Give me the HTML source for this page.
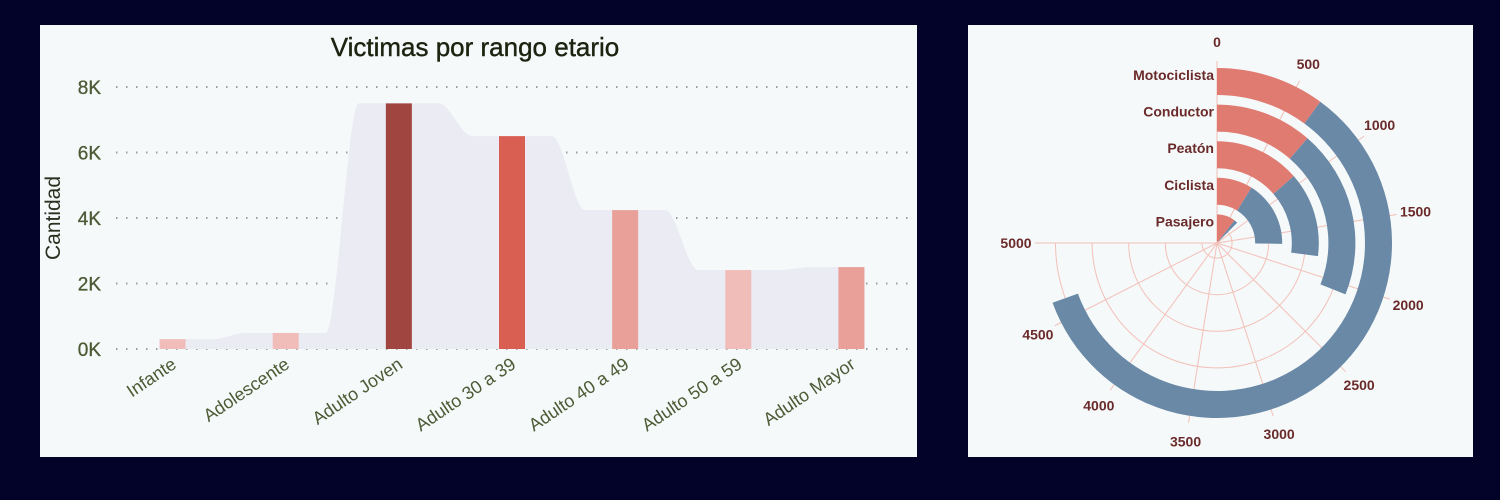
<!DOCTYPE html>
<html><head><meta charset="utf-8"><style>
body{margin:0;width:1500px;height:500px;background:#03032a;overflow:hidden;font-family:"Liberation Sans",sans-serif}
.panel{position:absolute;background:#f5f9fa}
svg{position:absolute;left:0;top:0}
</style></head><body>
<div class="panel" style="left:40px;top:25px;width:877px;height:432px"></div>
<div class="panel" style="left:968px;top:25px;width:505px;height:432px"></div>
<svg width="1500" height="500" id="s"></svg>
<script>
const ageCats=["Infante","Adolescente","Adulto Joven","Adulto 30 a 39","Adulto 40 a 49","Adulto 50 a 59","Adulto Mayor"];
const ageVals=[300,490,7500,6500,4240,2410,2500];
const yTicks=[0,2000,4000,6000,8000];
const yTickLabels=["0K","2K","4K","6K","8K"];
const roles=["Motociclista","Conductor","Peatón","Ciclista","Pasajero"];
const roleRed=[670,756,907,591,700];
const roleBlue=[3960,1314,897,1089,130];
const polarTicks=[0,500,1000,1500,2000,2500,3000,3500,4000,4500,5000];

const NS="http://www.w3.org/2000/svg";
const svg=document.getElementById('s');
function el(t,a,p){const e=document.createElementNS(NS,t);for(const k in a)e.setAttribute(k,a[k]);(p||svg).appendChild(e);return e;}

const x0=116,x1=908,step=(x1-x0)/ageCats.length,bw=26;
const xC=i=>x0+step*(i+0.5);
const y=v=>349-v*(262/8000);

let t=el('text',{x:475,y:56,'text-anchor':'middle','font-size':26,fill:'#1c2410','stroke':'#1c2410','stroke-width':0.4});t.textContent="Victimas por rango etario";


t=el('text',{x:0,y:0,'text-anchor':'middle','font-size':21,fill:'#2a3020',transform:'translate(60,218) rotate(-90)'});t.textContent="Cantidad";


yTicks.forEach((v,i)=>{
 const g=el('line',{x1:116,x2:910,y1:y(v),y2:y(v),stroke:'#9aa0a0','stroke-width':2,'stroke-dasharray':'1.5 8.5'});
 
 
 const l=el('text',{x:101,y:y(v)+7,'text-anchor':'end','font-size':19,fill:'#4d5a35','stroke':'#4d5a35','stroke-width':0.3});l.textContent=yTickLabels[i];
 
 
});
const pts=[];
ageVals.forEach((v,i)=>{const c=xC(i);const lx=i==0?c-13:c-40,rx=i==ageVals.length-1?c+13:c+40;pts.push([lx,y(v)],[rx,y(v)]);});
function monotone(p){
 const n=p.length,d=[],m=[];
 for(let i=0;i<n-1;i++)d.push((p[i+1][1]-p[i][1])/(p[i+1][0]-p[i][0]));
 for(let i=0;i<n;i++){if(i==0)m.push(d[0]);else if(i==n-1)m.push(d[n-2]);else m.push(d[i-1]*d[i]<=0?0:(d[i-1]+d[i])/2);}
 let s=`M${p[0][0]},${p[0][1]}`;
 for(let i=0;i<n-1;i++){const h=(p[i+1][0]-p[i][0])/3;s+=`C${p[i][0]+h},${p[i][1]+m[i]*h} ${p[i+1][0]-h},${p[i+1][1]-m[i+1]*h} ${p[i+1][0]},${p[i+1][1]}`;}
 return s;
}
const area=el('path',{d:monotone(pts)+`L${pts[pts.length-1][0]},${y(0)}L${pts[0][0]},${y(0)}Z`,fill:'#ebebf3'});


function barColor(v){if(v>7000)return'#a0453f';if(v>5000)return'#d95f52';if(v>2450)return'#e8a098';return'#f0bdb9';}
ageVals.forEach((v,i)=>{
 const r=el('rect',{x:xC(i)-bw/2,y:y(v),width:bw,height:y(0)-y(v),fill:barColor(v)});
 
 
 const l=el('text',{x:0,y:0,'text-anchor':'end','font-size':18,fill:'#4d5a35',transform:`translate(${xC(i)+5},${367}) rotate(-34)`});l.textContent=ageCats[i];
 
 
});

const cx=1217,cy=243,maxV=5000,maxA=270;
const ang=v=>v/maxV*maxA*Math.PI/180;
const P=(r,a)=>[cx+r*Math.sin(a),cy-r*Math.cos(a)];
const outerR=i=>175-i*36.6, innerR=i=>Math.max(0,outerR(i)-27);
function arc(r0,r1,a0,a1){
 const big=(a1-a0)>Math.PI?1:0;const A=P(r1,a0),B=P(r1,a1),C=P(r0,a1),D=P(r0,a0);
 return `M${A}A${r1},${r1} 0 ${big} 1 ${B}L${C}`+(r0>0?`A${r0},${r0} 0 ${big} 0 ${D}`:`L${D}`)+'Z';
}
roles.forEach((c,i)=>{
 const rm=(outerR(i)+innerR(i))/2;
 const g=el('path',{d:`M${P(rm,0)}A${rm},${rm} 0 1 1 ${P(rm,ang(maxV))}`,fill:'none',stroke:'#f3c0b8','stroke-width':1});
 
 
});
polarTicks.forEach(v=>{
 const a=ang(v);const e=P(182,a);
 const g=el('line',{x1:cx,y1:cy,x2:e[0],y2:e[1],stroke:'#f3c0b8','stroke-width':1});
 
 
 const lp=P(201,a);
 const l=el('text',{x:lp[0],y:lp[1]+5,'text-anchor':'middle','font-size':14,'font-weight':'bold',fill:'#6b2a2a'});l.textContent=v;
 
 
});
roles.forEach((c,i)=>{
 const r1=outerR(i),r0=innerR(i);
 const a=el('path',{d:arc(r0,r1,0,ang(roleRed[i])),fill:'#e07b72'});
 
 
 const b=el('path',{d:arc(r0,r1,ang(roleRed[i]),ang(roleRed[i]+roleBlue[i])),fill:'#6a89a6'});
 
 
 const l=el('text',{x:cx-3,y:cy-r1+12,'text-anchor':'end','font-size':14,'font-weight':'bold',fill:'#6b2a2a'});l.textContent=c;
 
 
});
</script>
</body></html>
